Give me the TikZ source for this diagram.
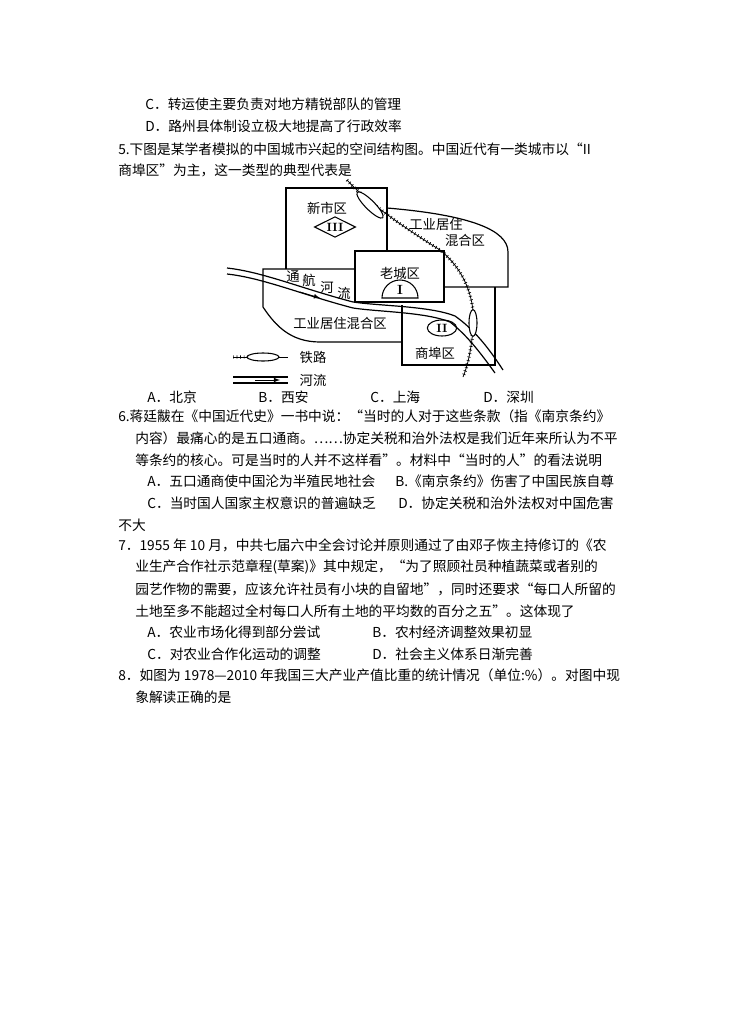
\documentclass[tikz,border=0pt]{standalone}
\usepackage{fontspec}
\newfontfamily\cjk{Noto Sans CJK SC}
\usetikzlibrary{shapes.geometric,calc}
\begin{document}
\begin{tikzpicture}[x=0.75pt,y=-0.75pt,
 tx/.style={anchor=west,inner sep=0,font=\cjk\fontsize{10.3}{12}\selectfont},
 lb/.style={inner sep=0,font=\cjk\fontsize{10}{12}\selectfont},
 ln/.style={line width=0.9pt}]
\fill[white] (0,0) rectangle (737,1021);
\useasboundingbox (0,0) rectangle (737,1021);
% text
\node[tx] (t1) at (145,104) {C．转运使主要负责对地方精锐部队的管理};
\node[tx] (t2) at (145,126) {D．路州县体制设立极大地提高了行政效率};
\node[tx] (t3) at (118,149) {5.下图是某学者模拟的中国城市兴起的空间结构图。中国近代有一类城市以“II};
\node[tx] (t4) at (118,170) {商埠区”为主，这一类型的典型代表是};
\node[tx] (o1) at (147,397) {A．北京};
\node[tx] (o2) at (258,397) {B．西安};
\node[tx] (o3) at (370,397) {C．上海};
\node[tx] (o4) at (483,397) {D．深圳};
\node[tx] (s1) at (118,416) {6.蒋廷黻在《中国近代史》一书中说：“当时的人对于这些条款（指《南京条约》};
\node[tx] (s2) at (135,438) {内容）最痛心的是五口通商。……协定关税和治外法权是我们近年来所认为不平};
\node[tx] (s3) at (135,460) {等条约的核心。可是当时的人并不这样看”。材料中“当时的人”的看法说明};
\node[tx] (s4) at (147,481) {A．五口通商使中国沦为半殖民地社会};
\node[tx] (s5) at (395,481) {B.《南京条约》伤害了中国民族自尊};
\node[tx] (s6) at (147,503) {C．当时国人国家主权意识的普遍缺乏};
\node[tx] (s7) at (398,503) {D．协定关税和治外法权对中国危害};
\node[tx] (s8) at (118,525) {不大};
\node[tx] (v1) at (118,545) {7．1955 年 10 月，中共七届六中全会讨论并原则通过了由邓子恢主持修订的《农};
\node[tx] (v2) at (135,567) {业生产合作社示范章程(草案)》其中规定，“为了照顾社员种植蔬菜或者别的};
\node[tx] (v3) at (135,589) {园艺作物的需要，应该允许社员有小块的自留地”，同时还要求“每口人所留的};
\node[tx] (v4) at (135,611) {土地至多不能超过全村每口人所有土地的平均数的百分之五”。这体现了};
\node[tx] (v5) at (147,632) {A．农业市场化得到部分尝试};
\node[tx] (v6) at (372,632) {B．农村经济调整效果初显};
\node[tx] (v7) at (147,654) {C．对农业合作化运动的调整};
\node[tx] (v8) at (372,654) {D．社会主义体系日渐完善};
\node[tx] (e1) at (118,675) {8．如图为 1978—2010 年我国三大产业产值比重的统计情况（单位:\%）。对图中现};
\node[tx] (e2) at (135,697) {象解读正确的是};
% map outlines
\draw[ln] (286,269) -- (286,188) -- (387,188) -- (387,251);
\draw[ln] (387,208) .. controls (470,215) and (508,230) .. (508,252) -- (508,287) -- (444,287);
\draw[ln] (495,287) -- (495,365) -- (402,365) -- (402,305);
\draw[ln] (355,251) rectangle (444,302);
\draw[ln] (355,269) -- (263,269) -- (263,307) .. controls (275,325) and (290,342) .. (320,342) -- (402,342);
% river
\draw[ln] (227,268) .. controls (263,272) and (300,288) .. (353,302) .. controls (380,306) and (430,306) .. (455,316) .. controls (475,330) and (490,350) .. (503,370);
\draw[ln] (227,274) .. controls (263,278) and (300,294) .. (353,308) .. controls (380,312) and (425,312) .. (450,322) .. controls (468,336) and (482,355) .. (495,373);
\draw[-{latex},line width=0.6pt] (300,292) -- (320,298);
% railway
\draw[line width=0.6pt] (347,180) .. controls (365,200) and (400,225) .. (440,250) .. controls (465,270) and (476,300) .. (473,330) .. controls (471,350) and (468,365) .. (463,377);
\draw[line width=2.5pt,dash pattern=on 0.5pt off 2.2pt] (347,180) .. controls (365,200) and (400,225) .. (440,250) .. controls (465,270) and (476,300) .. (473,330) .. controls (471,350) and (468,365) .. (463,377);
\node[draw,ellipse,fill=white,minimum width=27,minimum height=7,inner sep=0,rotate=-45,line width=0.8pt] (re1) at (370,205) {};
\node[draw,ellipse,fill=white,minimum width=20,minimum height=6,inner sep=0,rotate=-90,line width=0.8pt] (re2) at (473,323) {};
% symbols
\node[draw,diamond,aspect=2,inner sep=1pt,line width=0.8pt,font=\fontsize{9}{9}\selectfont\bfseries] (d3) at (335,227) {III};
\draw[line width=0.8pt,fill=white] (382,298) arc (180:360:18) -- cycle;
\node[inner sep=0,font=\fontsize{10}{10}\selectfont\bfseries] (d1) at (400,290) {I};
\node[draw,ellipse,minimum width=22,minimum height=12,inner sep=0,line width=0.8pt,font=\fontsize{9}{9}\selectfont\bfseries] (d2) at (442,328) {II};
% labels
\node[lb] (l1) at (327,208) {新市区};
\node[lb] (l2) at (436,224) {工业居住};
\node[lb] (l3) at (465,240) {混合区};
\node[lb] (l4) at (400,273) {老城区};
\node[lb] (l5) at (293,277) {通};
\node[lb] (l6) at (309,280) {航};
\node[lb] (l7) at (327,288) {河};
\node[lb] (l8) at (344,293) {流};
\node[lb] (l9) at (340,323) {工业居住混合区};
\node[lb] (l10) at (435,353) {商埠区};
% legend
\coordinate (ra) at (233,357); \coordinate (rb) at (288,357);
\draw[line width=0.6pt] (ra) -- (rb);
\draw[line width=2.5pt,dash pattern=on 0.5pt off 2.2pt] (ra) -- ($(ra)!0.4!(rb)$);
\node[draw,ellipse,fill=white,minimum width=24,minimum height=6,inner sep=0,line width=0.8pt] (le) at (263,357) {};
\node[lb] (lr) at (313,357) {铁路};
\coordinate (wa) at (233,377); \coordinate (wb) at (288,377);
\coordinate (wc) at (233,383); \coordinate (wd) at (288,383);
\draw[ln] (wa) -- (wb); \draw[ln] (wc) -- (wd);
\draw[-{latex},line width=0.6pt] (255,380) -- (280,380);
\node[lb] (lw) at (313,380) {河流};
\end{tikzpicture}
\end{document}
